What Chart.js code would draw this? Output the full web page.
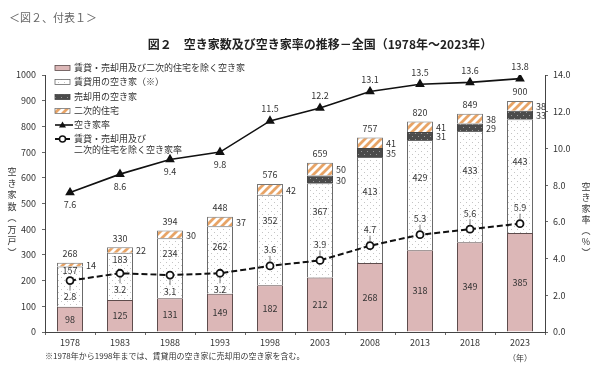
<!DOCTYPE html>
<html>
<head>
<meta charset="utf-8">
<script src="https://cdn.jsdelivr.net/npm/chart.js@4.4.0/dist/chart.umd.min.js"></script>
<style>
  body { margin: 0; background: #fff; }
  canvas { display: block; }
</style>
</head>
<body>
<canvas id="grafica" width="600" height="366"></canvas>
<script>
const years = ["1978", "1983", "1988", "1993", "1998", "2003", "2008", "2013", "2018", "2023"];
// 万戸
const otherVacant = [98, 125, 131, 149, 182, 212, 268, 318, 349, 385];
const rentalVacant = [157, 183, 234, 262, 352, 367, 413, 429, 433, 443];
const saleVacant = [null, null, null, null, null, 30, 35, 31, 29, 33];
const secondaryHomes = [14, 22, 30, 37, 42, 50, 41, 41, 38, 38];
const totalVacant = [268, 330, 394, 448, 576, 659, 757, 820, 849, 900];
// %
const vacancyRate = [7.6, 8.6, 9.4, 9.8, 11.5, 12.2, 13.1, 13.5, 13.6, 13.8];
const otherRate = [2.8, 3.2, 3.1, 3.2, 3.6, 3.9, 4.7, 5.3, 5.6, 5.9];

const FONT = "'Noto Sans CJK JP', 'Noto Sans', sans-serif";

function makePattern(size, draw) {
  const c = document.createElement("canvas");
  c.width = size; c.height = size;
  const g = c.getContext("2d");
  draw(g);
  return g.createPattern(c, "repeat");
}

const rentalFill = makePattern(6, g => {
  g.fillStyle = "#ffffff"; g.fillRect(0, 0, 6, 6);
  g.fillStyle = "#c4c4c4"; g.fillRect(1, 1, 1, 1); g.fillRect(4, 4, 1, 1);
});
const saleFill = makePattern(6, g => {
  g.fillStyle = "#4b4b4b"; g.fillRect(0, 0, 6, 6);
  g.fillStyle = "#9a9a9a"; g.fillRect(1, 1, 1, 1); g.fillRect(4, 4, 1, 1);
});
const secondaryFill = makePattern(8, g => {
  g.fillStyle = "#ffffff"; g.fillRect(0, 0, 8, 8);
  g.strokeStyle = "#e8a466"; g.lineWidth = 2.8;
  g.beginPath();
  g.moveTo(-2, 10); g.lineTo(10, -2);
  g.moveTo(-2, 2); g.lineTo(2, -2);
  g.moveTo(6, 10); g.lineTo(10, 6);
  g.stroke();
});

function verticalText(ctx, text, x, y, step) {
  for (const ch of text) {
    ctx.fillText(ch, x, y);
    y += step;
  }
}

// 凡例・数値ラベル・注記
const extras = {
  id: "extras",
  afterDatasetsDraw(chart) {
    const ctx = chart.ctx;
    ctx.save();
    ctx.fillStyle = "#333";
    ctx.font = "9px " + FONT;
    ctx.textBaseline = "middle";

    const metaOther = chart.getDatasetMeta(0);
    const metaRental = chart.getDatasetMeta(1);
    const metaSale = chart.getDatasetMeta(2);
    const metaSecond = chart.getDatasetMeta(3);
    const metaRate = chart.getDatasetMeta(4);
    const metaOtherRate = chart.getDatasetMeta(5);

    years.forEach((yr, i) => {
      const b0 = metaOther.data[i];
      ctx.textAlign = "center";
      ctx.fillText(otherVacant[i], b0.x, (b0.y + b0.base) / 2);

      const b1 = metaRental.data[i];
      const circ = metaOtherRate.data[i];
      const low = Math.min(b1.base, circ.y - (i < 4 ? 6 : 20));
      ctx.fillText(rentalVacant[i], b1.x, (b1.y + low) / 2);

      ctx.textAlign = "left";
      if (saleVacant[i] != null) {
        const b2 = metaSale.data[i];
        ctx.fillText(saleVacant[i], b2.x + b2.width / 2 + 3, (b2.y + b2.base) / 2 + 1);
      }
      const b3 = metaSecond.data[i];
      ctx.fillText(secondaryHomes[i], b3.x + b3.width / 2 + 3, (b3.y + b3.base) / 2 + 1);

      ctx.textAlign = "center";
      ctx.fillText(totalVacant[i], b3.x, b3.y - 9);

      const p = metaRate.data[i];
      ctx.fillText(vacancyRate[i].toFixed(1), p.x, i < 4 ? p.y + 12 : p.y - 12);

      const q = metaOtherRate.data[i];
      ctx.fillText(otherRate[i].toFixed(1), q.x, i < 4 ? q.y + 16 : q.y - 16);
      ctx.strokeStyle = "#555";
      ctx.lineWidth = 0.8;
      ctx.beginPath();
      if (i < 4) { ctx.moveTo(q.x, q.y + 4); ctx.lineTo(q.x, q.y + 10); }
      else { ctx.moveTo(q.x, q.y - 4); ctx.lineTo(q.x, q.y - 10); }
      ctx.stroke();
    });
    ctx.restore();
  },
  afterDraw(chart) {
    const ctx = chart.ctx;
    ctx.save();
    ctx.textBaseline = "middle";

    ctx.fillStyle = "#666";
    ctx.font = "11px " + FONT;
    ctx.textAlign = "left";
    ctx.fillText("＜図２、付表１＞", 9, 18);

    ctx.fillStyle = "#222";
    ctx.font = "bold 12px " + FONT;
    ctx.textAlign = "center";
    ctx.fillText("図２　空き家数及び空き家率の推移－全国（1978年～2023年）", 320, 44);

    // 軸タイトル(縦書き)
    ctx.font = "9px " + FONT;
    ctx.fillStyle = "#333";
    verticalText(ctx, "空き家数︵万戸︶", 12, 172, 11.5);
    verticalText(ctx, "空き家率︵%︶", 586, 187, 11);

    ctx.font = "8px " + FONT;
    ctx.textAlign = "left";
    ctx.fillText("※1978年から1998年までは、賃貸用の空き家に売却用の空き家を含む。", 45, 356);
    ctx.textAlign = "center";
    ctx.fillText("（年）", 520, 358);

    // 凡例
    const ds = chart.data.datasets;
    const lx = 55, sw = 15;
    const rows = [68, 82, 97, 111, 125, 139];
    ctx.font = "9px " + FONT;
    ctx.textAlign = "left";
    ds.forEach((d, k) => {
      const y = rows[k];
      if (d.type === "line") {
        ctx.strokeStyle = "#111";
        ctx.lineWidth = d.borderWidth;
        ctx.setLineDash(d.borderDash || []);
        ctx.beginPath(); ctx.moveTo(lx, y); ctx.lineTo(lx + sw + 3, y); ctx.stroke();
        ctx.setLineDash([]);
        ctx.lineWidth = 1.5;
        if (d.pointStyle === "triangle") {
          ctx.fillStyle = "#111";
          ctx.beginPath();
          ctx.moveTo(lx + sw / 2, y - 3.5); ctx.lineTo(lx + sw / 2 + 3.5, y + 2.5); ctx.lineTo(lx + sw / 2 - 3.5, y + 2.5);
          ctx.closePath(); ctx.fill();
        } else {
          ctx.fillStyle = "#fff";
          ctx.beginPath(); ctx.arc(lx + sw / 2, y, 3, 0, Math.PI * 2); ctx.fill(); ctx.stroke();
        }
      } else {
        ctx.fillStyle = d.backgroundColor;
        ctx.fillRect(lx, y - 2.5, sw, 5);
        ctx.strokeStyle = d.borderColor;
        ctx.lineWidth = 0.8;
        ctx.strokeRect(lx, y - 2.5, sw, 5);
      }
      ctx.fillStyle = "#333";
      const lines = Array.isArray(d.legendText) ? d.legendText : [d.legendText];
      lines.forEach((t, j) => ctx.fillText(t, lx + sw + 4, y + j * 11));
    });
    ctx.restore();
  }
};

const ctx = document.getElementById("grafica");

new Chart(ctx, {
  data: {
    labels: years,
    datasets: [
      {
        type: "bar", label: "other", legendText: "賃貸・売却用及び二次的住宅を除く空き家",
        data: otherVacant, backgroundColor: "#dcb7b7", borderColor: "#5e4c4c", borderWidth: 1,
        yAxisID: "y", order: 2
      },
      {
        type: "bar", label: "rental", legendText: "賃貸用の空き家（※）",
        data: rentalVacant, backgroundColor: rentalFill, borderColor: "#6a6a6a", borderWidth: 1,
        yAxisID: "y", order: 2
      },
      {
        type: "bar", label: "sale", legendText: "売却用の空き家",
        data: saleVacant, backgroundColor: saleFill, borderColor: "#444", borderWidth: 1,
        yAxisID: "y", order: 2
      },
      {
        type: "bar", label: "second", legendText: "二次的住宅",
        data: secondaryHomes, backgroundColor: secondaryFill, borderColor: "#777", borderWidth: 1,
        yAxisID: "y", order: 2
      },
      {
        type: "line", label: "rate", legendText: "空き家率",
        data: vacancyRate, borderColor: "#111", borderWidth: 1.6,
        pointStyle: "triangle", pointRadius: 4, pointBackgroundColor: "#111", pointBorderColor: "#111",
        yAxisID: "y1", order: 0
      },
      {
        type: "line", label: "otherRate", legendText: ["賃貸・売却用及び", "二次的住宅を除く空き家率"],
        data: otherRate, borderColor: "#111", borderWidth: 2, borderDash: [6, 3],
        pointStyle: "circle", pointRadius: 3.5, pointBackgroundColor: "#fff", pointBorderColor: "#111", pointBorderWidth: 1.8,
        yAxisID: "y1", order: 0
      }
    ]
  },
  options: {
    responsive: false,
    animation: false,
    devicePixelRatio: 1,
    layout: { padding: { top: 75, bottom: 0, left: 0, right: 0 } },
    datasets: { bar: { categoryPercentage: 1, barPercentage: 0.52 } },
    plugins: { legend: { display: false }, tooltip: { enabled: false } },
    scales: {
      x: {
        stacked: true,
        grid: { drawOnChartArea: false, tickLength: 3, offset: true, color: "#666" },
        border: { color: "#444" },
        ticks: { font: { size: 9, family: FONT }, color: "#333", padding: 2 },
        afterFit(s) { s.height = 34; }
      },
      y: {
        stacked: true, min: 0, max: 1000,
        ticks: { stepSize: 100, font: { size: 9, family: FONT }, color: "#333", padding: 6, callback: v => String(v) },
        grid: { drawOnChartArea: false, tickLength: 3, color: "#666" },
        border: { color: "#444" },
        afterFit(s) { s.width = 45; }
      },
      y1: {
        position: "right", min: 0, max: 14,
        ticks: { stepSize: 2, font: { size: 9, family: FONT }, color: "#333", padding: 5, callback: v => v.toFixed(1) },
        grid: { drawOnChartArea: false, tickLength: 3, color: "#666" },
        border: { color: "#444" },
        afterFit(s) { s.width = 55; }
      }
    }
  },
  plugins: [extras]
});
</script>
</body>
</html>
